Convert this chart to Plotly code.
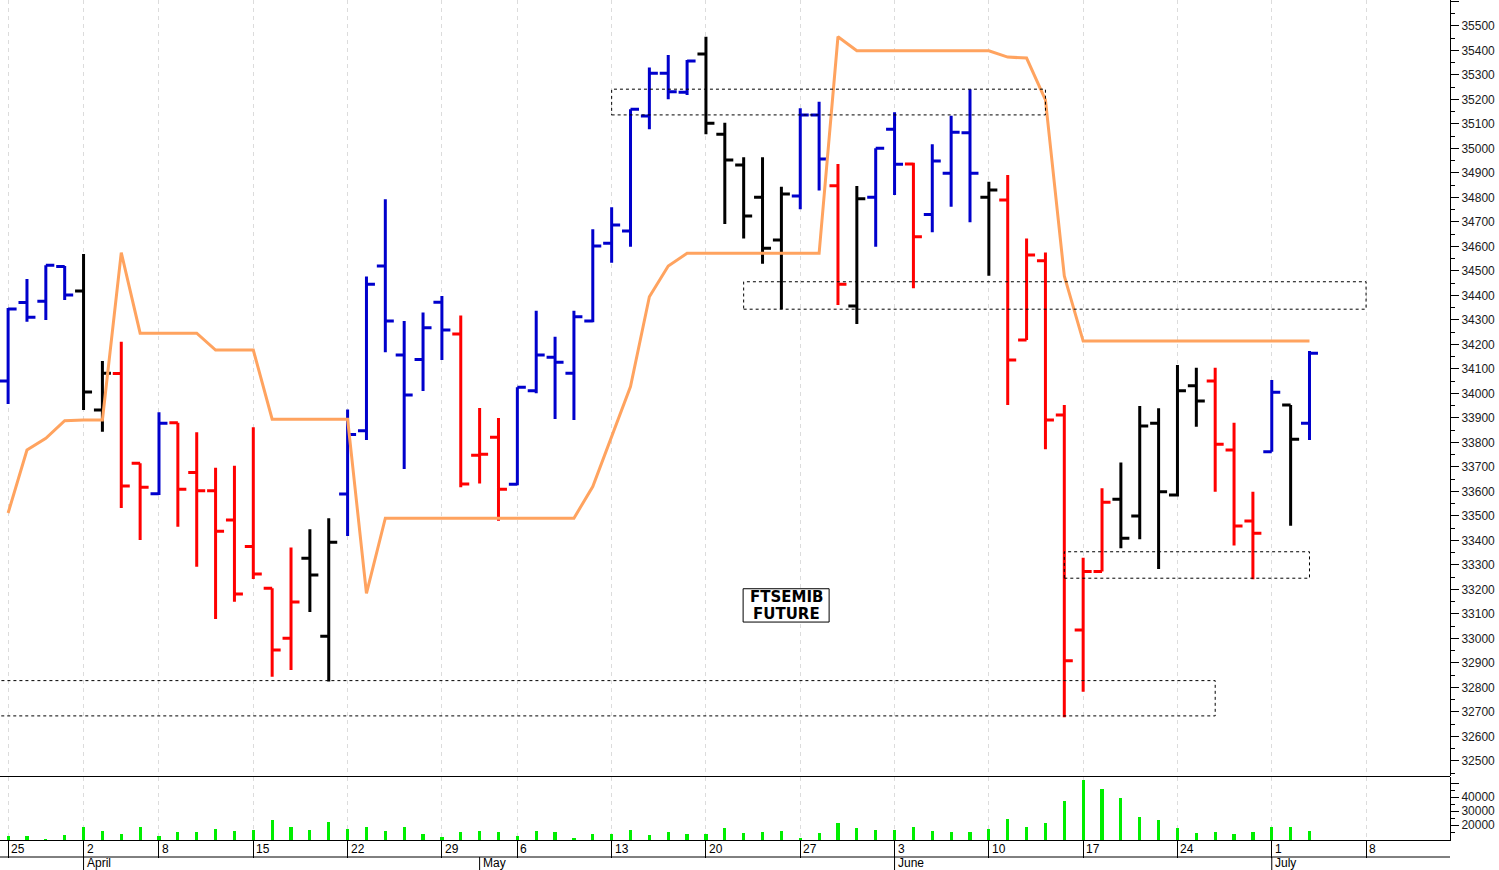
import pandas as pd
import plotly.graph_objects as go

# ---------------- data ----------------
HOLIDAYS = ["2024-03-29", "2024-04-01", "2024-05-01"]
sessions = [d for d in pd.bdate_range("2024-03-25", "2024-07-16")
            if d.strftime("%Y-%m-%d") not in HOLIDAYS]

opens = [34051, 34371, 34376, 34518, 34418, 33933, 34082, 33715, 33591, 33881,
         33677, 33603, 33484, 33375, 33205, 33001, 33327, 33009, 33590, 33848,
         34520, 34157, 34139, 34372, 34243, 33748, 33821, 33629, 34011, 34148,
         34083, 34296, 34613, 34663, 35133, 35307, 35229, 35386, 35058, 34933,
         34801, 34626, 34806, 35137, 34848, 34357, 34801, 35078, 34937, 34731,
         34899, 35064, 34801, 34790, 34218, 34542, 33912, 33035, 33273, 33568,
         33500, 33878, 33586, 34032, 34051, 33769, 33479, 33762, 33953, 33878]
highs = [34349, 34467, 34523, 34520, 34569, 34133, 34211, 33715, 33923, 33881,
         33842, 33697, 33705, 33862, 33205, 33371, 33446, 33491, 33935, 34477,
         34793, 34296, 34330, 34398, 34318, 33941, 33900, 34025, 34338, 34232,
         34338, 34670, 34760, 35160, 35331, 35382, 35361, 35456, 35105, 34964,
         34964, 34844, 35164, 35191, 34937, 34847, 35001, 35148, 34942, 35017,
         35134, 35242, 34864, 34892, 34633, 34575, 33953, 33330, 33613, 33718,
         33949, 33940, 34116, 34105, 34105, 33881, 33599, 34055, 33953, 34173]
lows = [33957, 34293, 34300, 34382, 33933, 33844, 33533, 33402, 33586, 33456,
        33293, 33080, 33150, 33243, 32844, 32871, 33108, 32824, 33418, 33810,
        34168, 33692, 34010, 34137, 33617, 33633, 33481, 33625, 34001, 33896,
        33892, 34291, 34534, 34599, 35078, 35201, 35218, 35058, 34692, 34633,
        34529, 34344, 34752, 34828, 34361, 34284, 34599, 34810, 34429, 34658,
        34762, 34699, 34480, 33953, 34218, 33772, 32678, 32783, 33273, 33368,
        33405, 33284, 33579, 33864, 33599, 33379, 33242, 33762, 33460, 33810]
closes = [34345, 34311, 34523, 34402, 34006, 34083, 33622, 33617, 33878, 33609,
          33603, 33438, 33182, 33263, 32953, 33149, 33259, 33393, 33833, 34446,
          34296, 33994, 34268, 34259, 33631, 33752, 33609, 34025, 34157, 34127,
          34313, 34602, 34688, 35160, 35307, 35232, 35357, 35103, 34953, 34724,
          34593, 34814, 35137, 34957, 34446, 34795, 35001, 34936, 34640, 34949,
          35066, 34899, 34831, 34137, 34565, 33892, 32909, 33273, 33556, 33409,
          33867, 33599, 34011, 33969, 33793, 33459, 33429, 34005, 33813, 34164]
# bar signal: u = up (blue), d = down (red), n = neutral (black)
signal = list("uuuunnddudddddddnnuuuuuudddu"
              "uuuuuuuuunnnnnuudnuuduuundddddd"
              "nnnnndddunu")
stop_line = [33512, 33769, 33817, 33889, 33892, 33892, 34575, 34246, 34246, 34246,
             34246, 34177, 34177, 34177, 33895, 33895, 33895, 33895, 33895, 33184,
             33491, 33491, 33491, 33491, 33491, 33491, 33491, 33491, 33491, 33491,
             33491, 33620, 33824, 34028, 34395, 34520, 34572, 34572, 34572, 34572,
             34572, 34572, 34572, 34572, 35456, 35399, 35399, 35399, 35399, 35399,
             35399, 35399, 35399, 35373, 35369, 35198, 34480, 34214, 34214, 34214,
             34214, 34214, 34214, 34214, 34214, 34214, 34214, 34214, 34214, 34214]
volume = [12100, 12100, 10000, 12900, 18800, 15500, 13600, 18600, 12100, 15000,
          15000, 16900, 15500, 16200, 23600, 18600, 16200, 22100, 17400, 18600,
          15500, 18600, 13300, 11700, 15000, 15500, 15000, 12100, 15700, 15000,
          11000, 13600, 13600, 16200, 12900, 15000, 13300, 13300, 17600, 14500,
          14800, 15500, 11000, 14000, 21700, 17600, 16200, 16200, 18800, 15700,
          15000, 15000, 16900, 24300, 18600, 21700, 37400, 52100, 45700, 39300,
          25500, 23600, 17600, 14300, 15000, 13300, 15000, 18800, 18800, 15500]

# support / resistance zones (session index from-to, price low-high)
zone_from = [32, 39, 56, -1]
zone_to = [55, 72, 69, 64]
zone_low = [35137, 34344, 33246, 32684]
zone_high = [35242, 34456, 33354, 32828]

label_text = ["FTSEMIB", "FUTURE"]

n = len(closes)
assert all(len(a) == n for a in (opens, highs, lows, signal, stop_line, volume))
xs = list(range(n))

# axis calendar ticks derived from the session list
X_MAX = 76.45
week_pos, week_txt, month_pos, month_txt = [], [], [], []
for i, d in enumerate(sessions):
    if i > X_MAX:
        break
    if i == 0 or d.isocalendar()[1] != sessions[i - 1].isocalendar()[1]:
        week_pos.append(i)
        week_txt.append(str(d.day))
    if i > 0 and d.month != sessions[i - 1].month:
        month_pos.append(i)
        month_txt.append(d.strftime("%B"))

# ---------------- figure ----------------
COLORS = {"u": "#0000CC", "d": "#FF0000", "n": "#000000"}
FONT = "Arial, Liberation Sans, sans-serif"

fig = go.Figure()

for key, col in COLORS.items():
    idx = [i for i in range(n) if signal[i] == key]
    fig.add_trace(go.Ohlc(
        x=[xs[i] for i in idx],
        open=[opens[i] for i in idx], high=[highs[i] for i in idx],
        low=[lows[i] for i in idx], close=[closes[i] for i in idx],
        increasing=dict(line=dict(color=col, width=3)),
        decreasing=dict(line=dict(color=col, width=3)),
        tickwidth=0.45, showlegend=False, xaxis="x", yaxis="y"))

fig.add_trace(go.Scatter(x=xs, y=stop_line, mode="lines",
                         line=dict(color="#FFA35F", width=3),
                         showlegend=False, xaxis="x", yaxis="y"))

fig.add_trace(go.Bar(x=xs, y=volume, width=0.17, marker_color="#00EE00",
                     marker_line_width=0, showlegend=False,
                     xaxis="x", yaxis="y2"))

PRICE_BOTTOM = 64 / 840
VOL_TOP = 63 / 840
ROW1 = -17 / 840
ROW2 = -30 / 840

shapes = []
for x0, x1, lo, hi in zip(zone_from, zone_to, zone_low, zone_high):
    shapes.append(dict(type="rect", xref="x", yref="y", x0=x0, x1=x1, y0=lo, y1=hi,
                       line=dict(color="black", width=1, dash="dot"),
                       fillcolor="rgba(0,0,0,0)", layer="above"))
# panel separator and date rows
shapes.append(dict(type="line", xref="paper", yref="paper", x0=0, x1=1,
                   y0=(PRICE_BOTTOM + VOL_TOP) / 2, y1=(PRICE_BOTTOM + VOL_TOP) / 2,
                   line=dict(color="black", width=1)))
shapes.append(dict(type="line", xref="paper", yref="paper", x0=0, x1=1,
                   y0=ROW1, y1=ROW1, line=dict(color="black", width=1)))
for p in month_pos:
    shapes.append(dict(type="line", xref="x", yref="paper", x0=p, x1=p,
                       y0=ROW1, y1=ROW2, line=dict(color="black", width=1)))

# label box
LBL_X, LBL_Y = 41.25, 33135
shapes.append(dict(type="rect", xref="x", yref="y", x0=LBL_X - 2.28, x1=LBL_X + 2.28,
                   y0=LBL_Y - 68, y1=LBL_Y + 68, line=dict(color="black", width=1),
                   fillcolor="white", layer="above"))

annotations = []
for j, t in enumerate(label_text):
    annotations.append(dict(x=LBL_X, y=LBL_Y, xref="x", yref="y", text=t,
                            showarrow=False, yshift=8.5 - 17 * j, xanchor="center",
                            yanchor="middle",
                            font=dict(family="DejaVu Sans", size=15, color="black",
                                      weight="bold")))
for p, t in zip(week_pos, week_txt):
    annotations.append(dict(x=p, y=(0 + ROW1) / 2, xref="x", yref="paper", text=t,
                            showarrow=False, xanchor="left", yanchor="middle",
                            xshift=1, font=dict(family=FONT, size=12, color="black")))
for p, t in zip(month_pos, month_txt):
    annotations.append(dict(x=p, y=(ROW1 + ROW2) / 2, xref="x", yref="paper", text=t,
                            showarrow=False, xanchor="left", yanchor="middle",
                            xshift=1, font=dict(family=FONT, size=12, color="black")))

price_major = list(range(32500, 35601, 100))
price_minor = list(range(32450, 35601, 100))
vol_major = [20000, 30000, 40000, 50000]
vol_minor = [15000, 25000, 35000, 45000]

fig.update_layout(
    width=1499, height=870,
    margin=dict(l=0, r=49, t=0, b=30, autoexpand=False),
    paper_bgcolor="white", plot_bgcolor="white",
    showlegend=False,
    xaxis=dict(range=[-0.43, X_MAX], anchor="y2", tickmode="array",
               tickvals=week_pos, ticks="outside", ticklen=17, tickcolor="black",
               tickwidth=1, showticklabels=False, showgrid=True,
               gridcolor="#dcdcdc", griddash="4px,4px", gridwidth=1,
               showline=True, linecolor="black", linewidth=1, zeroline=False,
               rangeslider=dict(visible=False), fixedrange=True, automargin=False),
    yaxis=dict(domain=[PRICE_BOTTOM, 1], range=[32438.7, 35606], side="right",
               anchor="x", tickmode="array", tickvals=price_major,
               ticktext=[str(v) if v < 35600 else "" for v in price_major],
               ticks="outside", ticklen=8, tickcolor="black",
               minor=dict(tickmode="array", tickvals=price_minor, ticks="outside",
                          ticklen=4, tickcolor="black", showgrid=False),
               showgrid=False, zeroline=False, showline=True, linecolor="black",
               linewidth=1, automargin=False, fixedrange=True,
               tickfont=dict(family=FONT, size=12, color="#1a1a1a")),
    yaxis2=dict(domain=[0, VOL_TOP], range=[9286, 54286], side="right",
                anchor="x", tickmode="array", tickvals=vol_major,
                ticktext=["20000", "30000", "40000", ""],
                ticks="outside", ticklen=8, tickcolor="black",
                minor=dict(tickmode="array", tickvals=vol_minor, ticks="outside",
                           ticklen=4, tickcolor="black", showgrid=False),
                showgrid=False, zeroline=False, showline=True, linecolor="black",
                linewidth=1, automargin=False, fixedrange=True,
                tickfont=dict(family=FONT, size=12, color="#1a1a1a")),
    shapes=shapes,
    annotations=annotations,
    bargap=0,
)

fig.write_html("out.html",
               config={"displayModeBar": False},
               post_script="document.body.style.margin='0';"
                           "document.body.style.overflow='hidden';")
